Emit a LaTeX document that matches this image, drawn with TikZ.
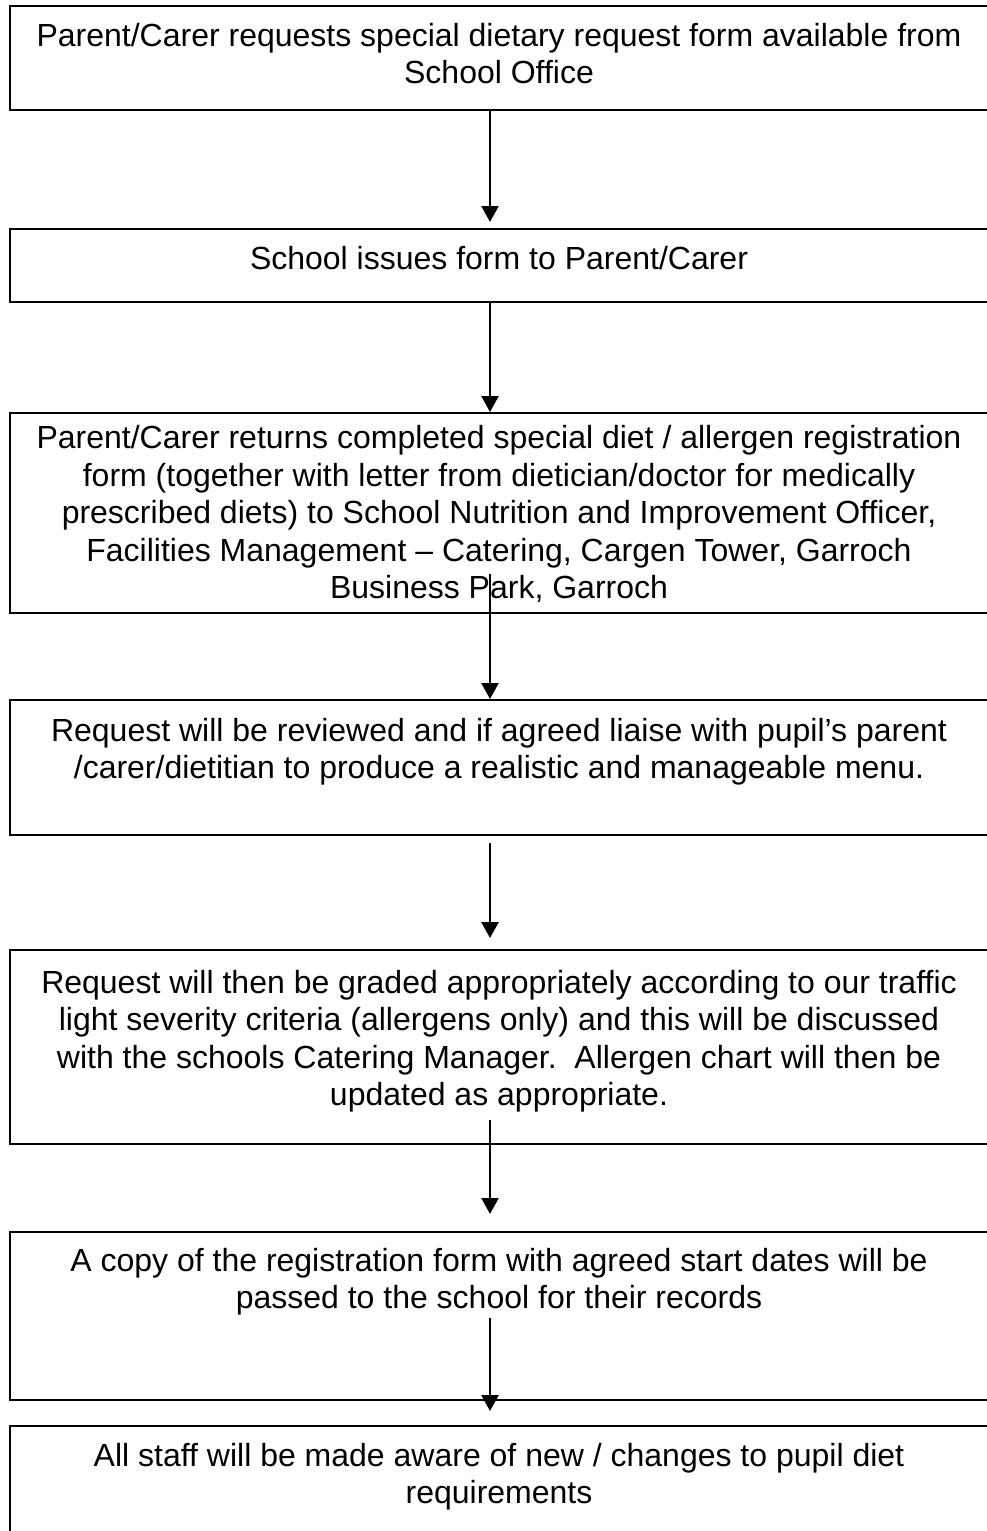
\documentclass[tikz,border=0pt]{standalone}
\usepackage{fontspec}
\setmainfont{Liberation Sans}
\usetikzlibrary{arrows.meta,calc}
\begin{document}
\begin{tikzpicture}[x=1pt,y=-1pt,
  box/.style={draw, line width=2.2pt, minimum width=980pt, inner sep=0pt, anchor=north},
  txt/.style={anchor=base, align=center, font=\fontsize{32}{37.5}\selectfont, inner sep=0pt},
  arr/.style={line width=2.4pt, -{Triangle[length=16pt,width=17pt]}}]
\useasboundingbox[fill=white] (0,0) rectangle (986,1531);
% boxes
\node[box, minimum height=104pt] (b1) at (500,5) {};
\node[box, minimum height=73pt]  (b2) at (500,228) {};
\node[box, minimum height=200pt] (b3) at (500,412) {};
\node[box, minimum height=135pt] (b4) at (500,699) {};
\node[box, minimum height=194pt] (b5) at (500,949) {};
\node[box, minimum height=168pt] (b6) at (500,1231) {};
\node[box, minimum height=115pt] (b7) at (500,1425) {};
% texts (anchor = baseline of last line)
\node[txt] (t1) at (499,83.5) {Parent/Carer requests special dietary request form available from\\School Office};
\node[txt] (t2) at (499,269) {School issues form to Parent/Carer};
\node[txt] (t3) at (499,598.5) {Parent/Carer returns completed special diet / allergen registration\\form (together with letter from dietician/doctor for medically\\prescribed diets) to School Nutrition and Improvement Officer,\\Facilities Management -- Catering, Cargen Tower, Garroch\\Business Park, Garroch};
\node[txt] (t4) at (499,778.5) {Request will be reviewed and if agreed liaise with pupil’s parent\\/carer/dietitian to produce a realistic and manageable menu.};
\node[txt] (t5) at (499,1105.5) {Request will then be graded appropriately according to our traffic\\light severity criteria (allergens only) and this will be discussed\\with the schools Catering Manager.\ \ Allergen chart will then be\\updated as appropriate.};
\node[txt] (t6) at (499,1308.5) {A copy of the registration form with agreed start dates will be\\passed to the school for their records};
\node[txt] (t7) at (499,1503.5) {All staff will be made aware of new / changes to pupil diet\\requirements};
% arrow coordinates
\coordinate (ax) at (490,0);
\coordinate (a1e) at (490,222);
\coordinate (a3s) at (490,574);
\coordinate (a4s) at (490,843);
\coordinate (a4e) at (490,938);
\coordinate (a5s) at (490,1120);
\coordinate (a5e) at (490,1214);
\coordinate (a6s) at (490,1318);
\coordinate (a6e) at (490,1411);
% arrows
\draw[arr] (b1.south -| ax) -- (a1e);
\draw[arr] (b2.south -| ax) -- (b3.north -| ax);
\draw[arr] (a3s) -- (b4.north -| ax);
\draw[arr] (a4s) -- (a4e);
\draw[arr] (a5s) -- (a5e);
\draw[arr] (a6s) -- (a6e);
\end{tikzpicture}
\end{document}
